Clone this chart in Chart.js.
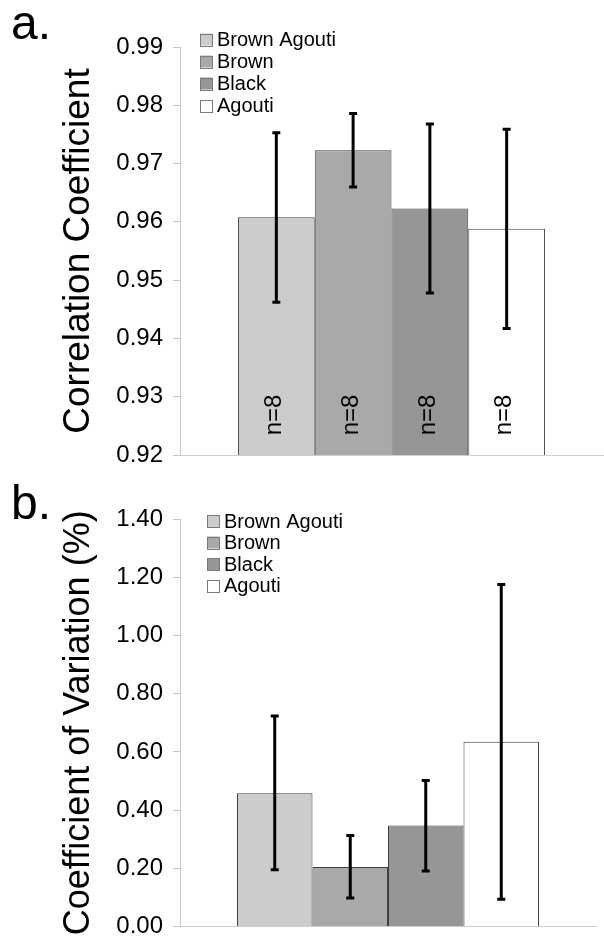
<!DOCTYPE html>
<html>
<head>
<meta charset="utf-8">
<script src="https://cdn.jsdelivr.net/npm/chart.js@4/dist/chart.umd.min.js"></script>
<style>
  html, body { margin: 0; padding: 0; background: #fff; }
  #wrap { position: relative; width: 604px; height: 951px; overflow: hidden; }
  canvas { position: absolute; left: 0; }
  #c1 { top: 0; }
  #c2 { top: 480px; }
  .panel { position: absolute; font-family: 'Liberation Sans', Arial, sans-serif; font-size: 48px; line-height: 48px; color: #000; }
</style>
</head>
<body>
<div id="wrap">
  <canvas id="c1" width="604" height="480"></canvas>
  <canvas id="c2" width="604" height="471"></canvas>
  <div class="panel" style="left:11px; top:-1px;">a.</div>
  <div class="panel" style="left:11px; top:479px;">b.</div>
</div>
<script>
// ---- data ----
const categories = ['Brown Agouti', 'Brown', 'Black', 'Agouti'];
const barColors = ['#cccccc', '#a9a9a9', '#969696', '#ffffff'];

const corrValues = [0.9608, 0.9723, 0.9623, 0.9588];
const corrErrLow = [0.9462, 0.9660, 0.9478, 0.9417];
const corrErrHigh = [0.9753, 0.9786, 0.9768, 0.9759];
const corrTicks = [0.92, 0.93, 0.94, 0.95, 0.96, 0.97, 0.98, 0.99];
const nLabels = ['n=8', 'n=8', 'n=8', 'n=8'];

const cvValues = [0.458, 0.205, 0.347, 0.635];
const cvErrLow = [0.195, 0.098, 0.191, 0.094];
const cvErrHigh = [0.723, 0.313, 0.502, 1.175];
const cvTicks = [0.0, 0.2, 0.4, 0.6, 0.8, 1.0, 1.2, 1.4];

const FONT = "'Liberation Sans', Arial, sans-serif";

function makeDatasets(values) {
  return categories.map((c, i) => ({
    label: c,
    data: [values[i]],
    backgroundColor: barColors[i],
    borderColor: '#404040',
    borderWidth: 1,
    categoryPercentage: 0.726,
    barPercentage: 1.0
  }));
}

const errorBarPlugin = {
  id: 'errorBars',
  afterDatasetsDraw(chart, args, opts) {
    const ctx = chart.ctx;
    const yS = chart.scales.y;
    ctx.save();
    ctx.strokeStyle = '#000';
    ctx.lineWidth = 3;
    chart.data.datasets.forEach((ds, i) => {
      const bar = chart.getDatasetMeta(i).data[0];
      const x = bar.x;
      const yl = yS.getPixelForValue(opts.low[i]);
      const yh = yS.getPixelForValue(opts.high[i]);
      ctx.beginPath();
      ctx.moveTo(x, yl); ctx.lineTo(x, yh);
      ctx.moveTo(x - 4, yl); ctx.lineTo(x + 4, yl);
      ctx.moveTo(x - 4, yh); ctx.lineTo(x + 4, yh);
      ctx.stroke();
    });
    ctx.restore();
  }
};

const nLabelPlugin = {
  id: 'nLabels',
  afterDatasetsDraw(chart, args, opts) {
    if (!opts.labels) return;
    const ctx = chart.ctx;
    ctx.save();
    ctx.fillStyle = '#000';
    ctx.font = '24px ' + FONT;
    ctx.textAlign = 'center';
    ctx.textBaseline = 'middle';
    chart.data.datasets.forEach((ds, i) => {
      const bar = chart.getDatasetMeta(i).data[0];
      ctx.save();
      ctx.translate(bar.x - 2, chart.chartArea.bottom - 40);
      ctx.rotate(-Math.PI / 2);
      ctx.fillText(opts.labels[i], 0, 0);
      ctx.restore();
    });
    ctx.restore();
  }
};

const boxLegendPlugin = {
  id: 'boxLegend',
  afterDraw(chart, args, opts) {
    const ctx = chart.ctx;
    ctx.save();
    ctx.font = '20px ' + FONT;
    ctx.textBaseline = 'middle';
    ctx.textAlign = 'left';
    chart.data.datasets.forEach((ds, i) => {
      const cy = opts.y + i * opts.step;
      ctx.fillStyle = ds.backgroundColor;
      ctx.fillRect(opts.x, cy - 6, 12, 12);
      ctx.strokeStyle = '#7a7a7a';
      ctx.lineWidth = 1;
      ctx.strokeRect(opts.x + 0.5, Math.round(cy - 6) + 0.5, 12, 12);
      ctx.fillStyle = '#000';
      ctx.fillText(ds.label, opts.x + 17, cy + 1);
    });
    ctx.restore();
  }
};

function makeChart(canvasId, values, ticks, title, titleSize, low, high, pad, legendPos, labels) {
  return new Chart(document.getElementById(canvasId), {
    type: 'bar',
    data: { labels: [''], datasets: makeDatasets(values) },
    plugins: [errorBarPlugin, nLabelPlugin, boxLegendPlugin],
    options: {
      responsive: false,
      animation: false,
      devicePixelRatio: 1,
      layout: { padding: pad },
      plugins: {
        legend: { display: false },
        tooltip: { enabled: false },
        errorBars: { low: low, high: high },
        nLabels: { labels: labels },
        boxLegend: legendPos
      },
      scales: {
        x: {
          type: 'category',
          ticks: { display: false },
          grid: { display: false, drawTicks: false },
          border: { display: true, color: '#cfcfcf', width: 1 },
          afterFit(s) { s.height = 0; }
        },
        y: {
          min: ticks[0],
          max: ticks[ticks.length - 1],
          afterBuildTicks(s) { s.ticks = ticks.map(v => ({ value: v })); },
          ticks: {
            font: { family: FONT, size: 24 },
            color: '#000',
            padding: 10,
            callback: v => Number(v).toFixed(2)
          },
          grid: { drawOnChartArea: false, drawTicks: true, tickLength: 7, tickColor: '#c8c8c8', color: '#c8c8c8' },
          border: { color: '#c8c8c8', width: 1 },
          title: {
            display: true,
            text: title,
            color: '#000',
            font: { family: FONT, size: titleSize },
            padding: { top: 57, bottom: 0 }
          },
          afterFit(s) { s.width = 180; }
        }
      }
    }
  });
}

makeChart('c1', corrValues, corrTicks, 'Correlation Coefficient', 37, corrErrLow, corrErrHigh,
  { top: 47, bottom: 25, left: 0, right: 1 }, { x: 200, y: 39.5, step: 22 }, nLabels);
makeChart('c2', cvValues, cvTicks, 'Coefficient of Variation (%)', 36, cvErrLow, cvErrHigh,
  { top: 39, bottom: 23, left: 0, right: 8 }, { x: 207, y: 41, step: 21.5 }, null);
</script>
</body>
</html>
